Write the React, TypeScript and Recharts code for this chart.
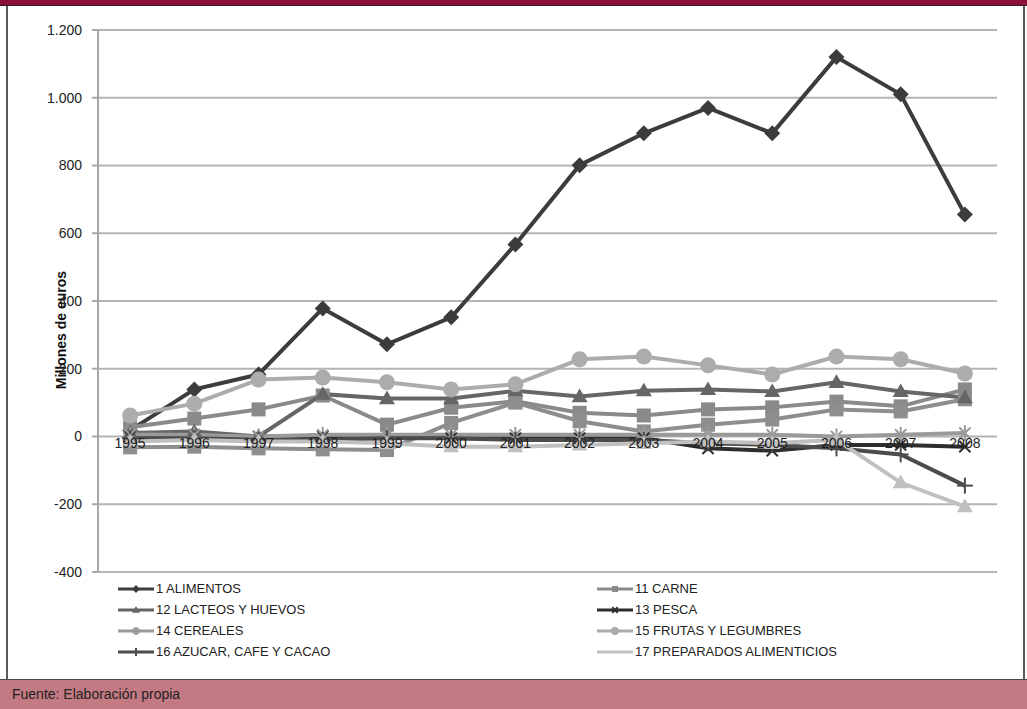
import React from "react"
import { LineChart, Line, XAxis, YAxis, CartesianGrid, Legend } from "recharts"

const years = ["1995", "1996", "1997", "1998", "1999", "2000", "2001", "2002", "2003", "2004", "2005", "2006", "2007", "2008"]

const alimentos = [18, 139, 183, 378, 272, 352, 567, 801, 895, 970, 895, 1120, 1010, 655]
const carne = [27, 53, 80, 121, 35, 85, 104, 70, 62, 80, 86, 103, 89, 139]
const lacteos = [10, 15, 0, 125, 112, 112, 135, 118, 135, 139, 133, 160, 133, 115]
const sinEtiqueta = [-32, -30, -35, -38, -40, 40, 100, 45, 15, 35, 50, 80, 74, 110]
const pesca = [0, 5, 0, 0, 5, -5, -5, -5, -5, -35, -42, -25, -25, -30]
const cereales = [5, 5, 0, 5, 5, 5, 5, 5, 5, 5, 5, 0, 5, 10]
const frutas = [62, 97, 168, 174, 160, 139, 154, 228, 236, 210, 183, 236, 228, 186]
const azucar = [-5, -5, -10, -10, -5, -5, -10, -10, -10, -20, -25, -35, -53, -145]
const preparados = [-15, -10, -15, -15, -20, -30, -30, -25, -20, -15, -20, -10, -136, -207]

const yTicks = [-400, -200, 0, 200, 400, 600, 800, 1000, 1200]

// legend order = drawing order
const series = [
  { key: "alimentos", name: "1 ALIMENTOS", color: "#3c3c3c", shape: "diamond", values: alimentos },
  { key: "carne", name: "11 CARNE", color: "#8a8a8a", shape: "square", values: carne },
  { key: "lacteos", name: "12 LACTEOS Y HUEVOS", color: "#666666", shape: "triangle", values: lacteos },
  { key: "pesca", name: "13 PESCA", color: "#2e2e2e", shape: "x", values: pesca },
  { key: "cereales", name: "14 CEREALES", color: "#9a9a9a", shape: "star", values: cereales },
  { key: "frutas", name: "15 FRUTAS Y LEGUMBRES", color: "#acacac", shape: "circle", values: frutas },
  { key: "azucar", name: "16 AZUCAR, CAFE Y CACAO", color: "#4c4c4c", shape: "plus", values: azucar },
  { key: "preparados", name: "17 PREPARADOS ALIMENTICIOS", color: "#c0c0c0", shape: "triangle", values: preparados },
]

const data = years.map((year, i) => {
  const row: any = { year, sinEtiqueta: sinEtiqueta[i] }
  series.forEach(s => { row[s.key] = s.values[i] })
  return row
})

const W = 1027
const H = 709
const PLOT_TOP = 30
const PLOT_BOTTOM = 572
const PLOT_LEFT = 98
const PLOT_RIGHT = 997
const Y_MIN = -400
const Y_MAX = 1200
const zeroShift = ((PLOT_BOTTOM - PLOT_TOP) * (0 - Y_MIN)) / (Y_MAX - Y_MIN)
const FONT = "'Liberation Sans', Arial, sans-serif"

function Marker({ shape, x, y, color, s = 8 }: any) {
  switch (shape) {
    case "diamond":
      return <polygon points={`${x},${y - s} ${x + s},${y} ${x},${y + s} ${x - s},${y}`} fill={color} />
    case "square":
      return <rect x={x - s + 1} y={y - s + 1} width={2 * s - 2} height={2 * s - 2} fill={color} />
    case "triangle":
      return <polygon points={`${x},${y - s} ${x + s},${y + s * 0.7} ${x - s},${y + s * 0.7}`} fill={color} />
    case "circle":
      return <circle cx={x} cy={y} r={s} fill={color} />
    case "x":
      return (
        <g stroke={color} strokeWidth={2}>
          <line x1={x - s * 0.7} y1={y - s * 0.7} x2={x + s * 0.7} y2={y + s * 0.7} />
          <line x1={x - s * 0.7} y1={y + s * 0.7} x2={x + s * 0.7} y2={y - s * 0.7} />
        </g>
      )
    case "star":
      return (
        <g stroke={color} strokeWidth={2}>
          <line x1={x - s * 0.7} y1={y - s * 0.7} x2={x + s * 0.7} y2={y + s * 0.7} />
          <line x1={x - s * 0.7} y1={y + s * 0.7} x2={x + s * 0.7} y2={y - s * 0.7} />
          <line x1={x} y1={y - s} x2={x} y2={y + s} />
        </g>
      )
    case "plus":
      return (
        <g stroke={color} strokeWidth={2}>
          <line x1={x - s} y1={y} x2={x + s} y2={y} />
          <line x1={x} y1={y - s} x2={x} y2={y + s} />
        </g>
      )
    default:
      return null
  }
}

const makeDot = (key: string, shape: string, color: string) => (props: any) => {
  const { cx, cy, index } = props
  if (cx == null || cy == null) return <g key={`${key}-${index}`} />
  return (
    <g key={`${key}-${index}`}>
      <Marker shape={shape} x={cx} y={cy} color={color} />
    </g>
  )
}

const fmt = (v: number) => (v < 0 ? "-" : "") + String(Math.abs(v)).replace(/\B(?=(\d{3})+(?!\d))/g, ".")

// year labels sit on the zero line, as in the spreadsheet original
const YearTick = ({ x, y, payload }: any) => (
  <text x={x} y={y - 1 - zeroShift + 12} textAnchor="middle" fontSize={14} fill="#222" fontFamily={FONT}>
    {payload.value}
  </text>
)

const LegendBox = ({ payload }: any) => (
  <div style={{ display: "grid", gridTemplateColumns: "479px 400px", marginLeft: 118, fontFamily: FONT, fontSize: 13, color: "#222" }}>
    {(payload || []).map((p: any) => {
      const s = series.find(it => it.key === p.dataKey)
      if (!s) return null
      return (
        <div key={s.key} style={{ display: "flex", alignItems: "center", height: 21 }}>
          <svg width={36} height={14} style={{ marginRight: 2 }}>
            <line x1={0} y1={7} x2={36} y2={7} stroke={s.color} strokeWidth={3} />
            {s.key !== "preparados" && <Marker shape={s.shape} x={18} y={7} color={s.color} s={4} />}
          </svg>
          <span>{s.name}</span>
        </div>
      )
    })}
  </div>
)

export default function App() {
  return (
    <div style={{ position: "relative", width: W, height: H, background: "#fff", overflow: "hidden", fontFamily: FONT }}>
      <style>{"html, body { margin: 0; padding: 0; background: #fff; }"}</style>
      <div style={{ position: "absolute", left: 0, top: 0 }}>
        <LineChart
          width={W}
          height={H}
          data={data}
          margin={{ top: PLOT_TOP, right: W - PLOT_RIGHT, bottom: H - PLOT_BOTTOM - 1, left: PLOT_LEFT - 60 }}
        >
          <CartesianGrid vertical={false} stroke="#b4b4b4" strokeWidth={2} />
          <XAxis
            dataKey="year"
            scale="band"
            height={1}
            axisLine={false}
            tickLine={false}
            tickSize={0}
            tickMargin={0}
            interval={0}
            tick={<YearTick />}
          />
          <YAxis
            width={60}
            domain={[Y_MIN, Y_MAX]}
            ticks={yTicks}
            tickFormatter={fmt}
            axisLine={{ stroke: "#a8a8a8", strokeWidth: 2 }}
            tickLine={{ stroke: "#a8a8a8", strokeWidth: 2 }}
            tickSize={6}
            tickMargin={10}
            tick={{ fontSize: 14, fill: "#222", fontFamily: FONT }}
            label={{
              content: ({ viewBox }: any) => (
                <text
                  x={viewBox.x + 23}
                  y={viewBox.y + viewBox.height / 2 + 29}
                  transform={`rotate(-90, ${viewBox.x + 23}, ${viewBox.y + viewBox.height / 2 + 29})`}
                  textAnchor="middle"
                  dominantBaseline="central"
                  fontSize={14}
                  fontWeight="bold"
                  fill="#111"
                  fontFamily={FONT}
                >
                  Millones de euros
                </text>
              ),
            }}
          />
          <Legend
            layout="horizontal"
            verticalAlign="middle"
            align="center"
            wrapperStyle={{ top: 578, left: 0, width: W }}
            content={<LegendBox />}
          />
          {series.slice(0, 2).map(s => (
            <Line
              key={s.key}
              dataKey={s.key}
              name={s.name}
              stroke={s.color}
              strokeWidth={4}
              dot={makeDot(s.key, s.shape, s.color)}
              activeDot={false}
              isAnimationActive={false}
            />
          ))}
          <Line
            dataKey="sinEtiqueta"
            stroke="#8e8e8e"
            strokeWidth={4}
            legendType="none"
            dot={makeDot("sinEtiqueta", "square", "#8e8e8e")}
            activeDot={false}
            isAnimationActive={false}
          />
          {series.slice(2).map(s => (
            <Line
              key={s.key}
              dataKey={s.key}
              name={s.name}
              stroke={s.color}
              strokeWidth={4}
              dot={makeDot(s.key, s.shape, s.color)}
              activeDot={false}
              isAnimationActive={false}
            />
          ))}
        </LineChart>
      </div>

      <div style={{ position: "absolute", left: 0, top: 0, width: W, height: 5, background: "#8a0f3b", borderBottom: "1px solid #3a1a22", zIndex: 5 }} />
      <div style={{ position: "absolute", left: 6, top: 6, width: 2, height: 673, background: "#5a5a5a", zIndex: 5 }} />
      <div style={{ position: "absolute", left: 1023, top: 6, width: 2, height: 673, background: "#5a5a5a", zIndex: 5 }} />
      <div
        style={{
          position: "absolute",
          left: 0,
          top: 679,
          width: W,
          height: 30,
          background: "#c47a82",
          borderTop: "1px solid #4a4a4a",
          boxSizing: "border-box",
          fontSize: 14,
          color: "#222",
          paddingLeft: 12,
          lineHeight: "28px",
          zIndex: 5,
        }}
      >
        Fuente: Elaboración propia
      </div>
    </div>
  )
}
